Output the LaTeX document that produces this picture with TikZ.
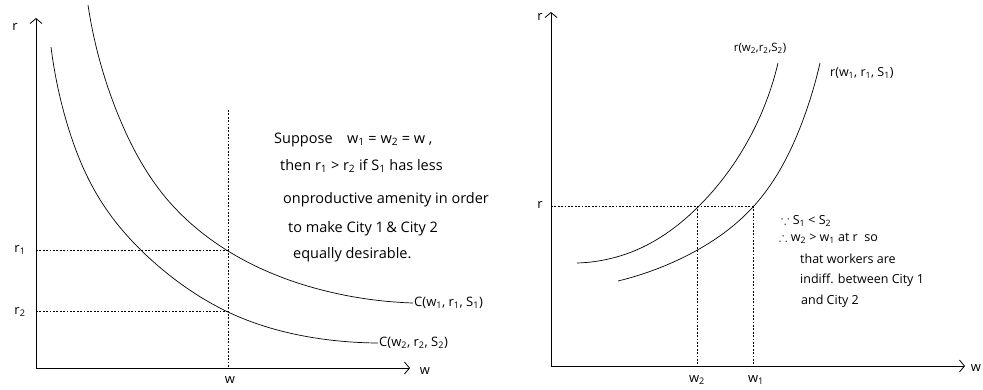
\documentclass[tikz,border=0pt]{standalone}
\usepackage{amssymb}
\usepackage{fontspec}
\setmainfont{Open Sans}
\usetikzlibrary{arrows.meta,hobby}
\newcommand{\ix}[2]{#1\textsubscript{#2}}
\tikzset{
  axis/.style={line width=0.8pt, -{Straight Barb[length=5pt,width=12pt]}},
  curve/.style={line width=0.7pt, use Hobby shortcut},
  guide/.style={line width=0.6pt, dash pattern=on 1.8pt off 1.6pt},
  lbl/.style={font=\fontsize{13}{15}\selectfont, inner sep=1pt},
  note/.style={font=\fontsize{14.5}{17}\selectfont, anchor=west, inner sep=0pt},
  noteR/.style={font=\fontsize{12.5}{15}\selectfont, anchor=west, inner sep=0pt},
}
\begin{document}
\begin{tikzpicture}[x=1pt,y=-1pt]
\useasboundingbox (0,0) rectangle (983,389);

% Left panel: axes
\coordinate (O1) at (36,368);
\coordinate (Y1) at (36,18);
\coordinate (X1) at (410,368);
\draw[axis] (O1) -- (Y1);
\draw[axis] (O1) -- (X1);
\node[lbl] (rlabL) at (15,27) {r};
\node[lbl] (wlabL) at (425,371) {w};

% Left panel: the two curves
\coordinate (cc1end) at (413,303);
\coordinate (cc2end) at (378,343);
\draw[curve] (88,5) .. (119,117) .. (166,198) .. (228,251) .. (330,292) .. (cc1end);
\draw[curve] (51,47) .. (66,120) .. (99,198) .. (163,270) .. (228,312) .. (330,340) .. (cc2end);
\node[lbl, anchor=west] (cc1) at (cc1end) {C(\ix{w}{1}, \ix{r}{1}, \ix{S}{1})};
\node[lbl, anchor=west] (cc2) at (cc2end) {C(\ix{w}{2}, \ix{r}{2}, \ix{S}{2})};

% Left panel: guide lines
\coordinate (wtop) at (228,110);
\coordinate (wbot) at (228,368);
\coordinate (r1a) at (36,250);
\coordinate (r1b) at (228,250);
\coordinate (r2a) at (36,311);
\coordinate (r2b) at (228,311);
\draw[guide] (wtop) -- (wbot);
\draw[guide] (r1a) -- (r1b);
\draw[guide] (r2a) -- (r2b);
\node[lbl] (wtick) at (230,380) {w};
\node[lbl] (r1tick) at (20,250) {\ix{r}{1}};
\node[lbl] (r2tick) at (20,312) {\ix{r}{2}};

% Left panel: note
\node[note] (nl1) at (274,140) {Suppose\quad \ix{w}{1} = \ix{w}{2} = w ,};
\node[note] (nl2) at (280,166) {then \ix{r}{1} > \ix{r}{2} if \ix{S}{1} has less};
\node[note] (nl3) at (283,200) {onproductive amenity in order};
\node[note] (nl4) at (288,229) {to make City 1\,\& City 2};
\node[note] (nl5) at (293,255) {equally desirable.};

% Right panel: axes
\coordinate (O2) at (551,366);
\coordinate (Y2) at (551,12);
\coordinate (X2) at (965,366);
\draw[axis] (O2) -- (Y2);
\draw[axis] (O2) -- (X2);
\node[lbl] (rlabR) at (540,17) {r};
\node[lbl] (wlabR) at (976,368) {w};

% Right panel: the two curves
\coordinate (rc2top) at (778,63);
\coordinate (rc1top) at (820,63);
\draw[curve] (577,263) .. (643,247) .. (698,207) .. (750,137) .. (rc2top);
\draw[curve] (618,281) .. (680,259) .. (753,207) .. (803,120) .. (rc1top);
\node[lbl, font=\fontsize{11.5}{13}\selectfont] (rc2) at (760,48) {r(\ix{w}{2},\ix{r}{2},\ix{S}{2})};
\node[lbl, font=\fontsize{12.5}{14}\selectfont, anchor=west] (rc1) at (829,73) {r(\ix{w}{1}, \ix{r}{1}, \ix{S}{1})};

% Right panel: guide lines
\coordinate (ra) at (551,206);
\coordinate (w2top) at (697,206);
\coordinate (w1top) at (753,206);
\coordinate (w2bot) at (697,366);
\coordinate (w1bot) at (753,366);
\draw[guide] (ra) -- (w1top);
\draw[guide] (w2top) -- (w2bot);
\draw[guide] (w1top) -- (w1bot);
\node[lbl] (w2tick) at (697,380) {\ix{w}{2}};
\node[lbl] (w1tick) at (756,380) {\ix{w}{1}};
\node[lbl] (rtick) at (540,205) {r};

% Right panel: note
\node[noteR] (nr1) at (781,221) {$\because$ \ix{S}{1} < \ix{S}{2}};
\node[noteR] (nr2) at (779,238) {$\therefore$ \ix{w}{2} > \ix{w}{1} at r\ \ so};
\node[noteR] (nr3) at (800,259) {that workers are};
\node[noteR] (nr4) at (800,280) {indiff. between City 1};
\node[noteR] (nr5) at (801,301) {and City 2};
\end{tikzpicture}
\end{document}
